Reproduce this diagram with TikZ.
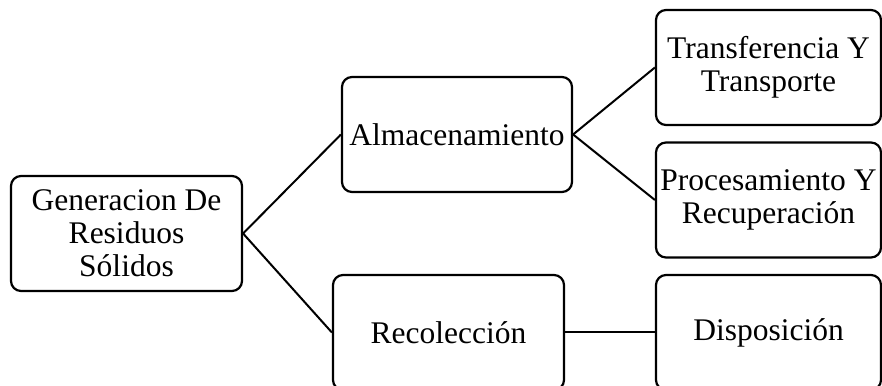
\documentclass[tikz,border=0pt]{standalone}
\usepackage{fontspec}
\setmainfont{Liberation Serif}
\usetikzlibrary{positioning}

\tikzset{
  stage/.style={draw, rounded corners=10pt, line width=2.2pt, fill=white,
    minimum width=231pt, minimum height=115pt, inner sep=0pt, align=center,
    font=\fontsize{31.5}{33}\selectfont},
  link/.style={line width=2pt}
}

\begin{document}
\begin{tikzpicture}[x=1pt,y=1pt,on grid]
    \useasboundingbox (0,0) rectangle (882,385);

    \node[stage] (gen) at (126.5,151.5) {Generacion De\\Residuos\\Sólidos};
    \node[stage,minimum width=230pt] (alm) [above right=99pt and 330.5pt of gen] {Almacenamiento};
    \node[stage] (rec) [below right=99pt and 322pt of gen] {Recolección};

    \node[stage,minimum width=225pt] (tra) [above right=67pt and 311.5pt of alm] {Transferencia Y\\Transporte};
    \node[stage,minimum width=225pt] (pro) [below=132.5pt of tra] {Procesamiento Y\\Recuperación};
    \node[stage,minimum width=225pt] (dis) [right=320pt of rec] {Disposición};

    \path[link]
    (gen.east)
    edge (alm.west)
    edge (rec.west)
    (alm.east)
    edge (tra.west)
    edge (pro.west)
    (rec.east)
    edge (dis.west)
    ;
\end{tikzpicture}
\end{document}
